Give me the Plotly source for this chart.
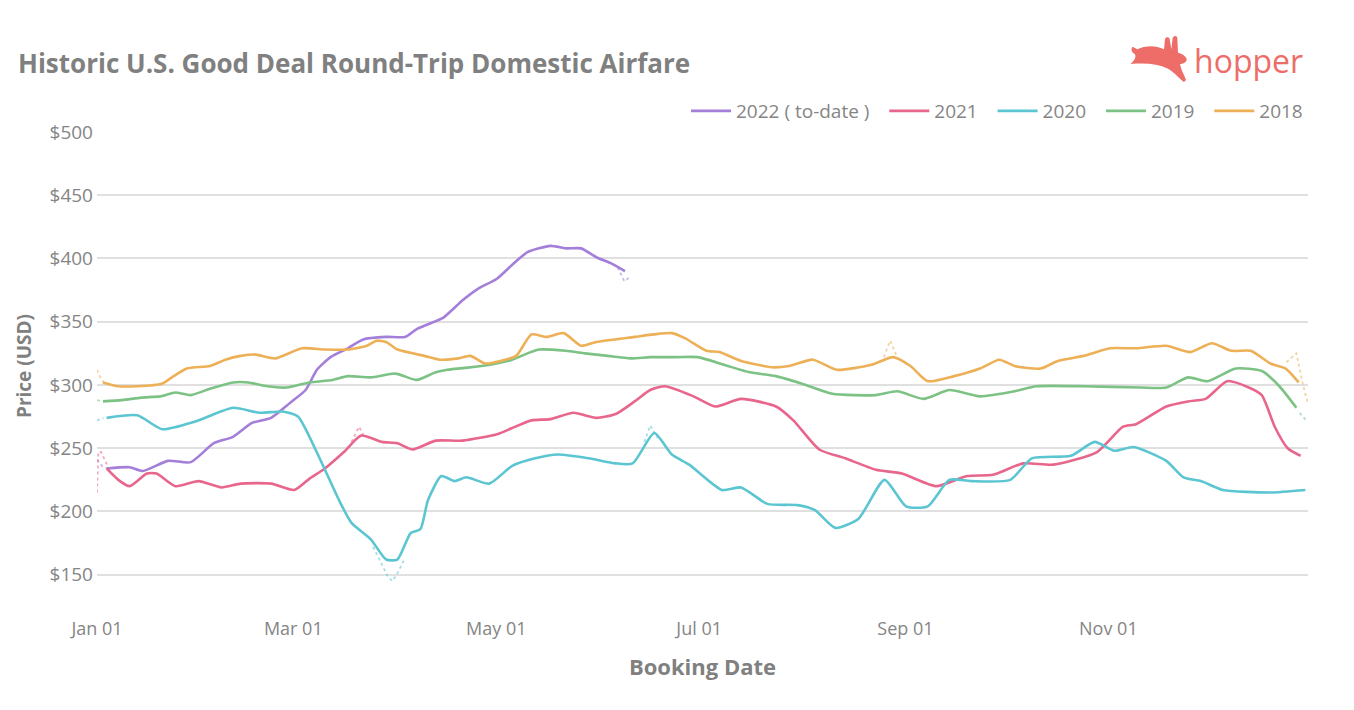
import pandas as pd
import plotly.graph_objects as go

# ---- data (day-of-year offsets from Jan 01, price in USD) ----
days_2022 = [2.9, 9.8, 13.8, 21.3, 28.2, 35.1, 40.9, 46.6, 52.3, 58.1, 62.7, 66.1, 70.2, 75.4, 80, 86.9,
             92.6, 96, 99.5, 104, 109.9, 114.5, 120.2, 124.8, 129.4, 136.3, 140.9, 145.5, 150.1, 154.7, 158.7]
vals_2022 = [234, 235, 232, 240, 239, 254, 259, 270, 274, 286, 296, 312, 322, 329, 336, 338,
             338, 344, 348, 353, 367, 376, 384, 395, 405, 410, 408, 408, 401, 396, 390]

days_2021 = [2.9, 6.4, 9.8, 15, 17.9, 23.6, 30.5, 37.4, 43.2, 52.4, 59.3, 63.9, 68.5, 74.2, 79.4, 85.7,
             90.3, 94.9, 101.8, 109.9, 120.2, 124.8, 130.6, 136.3, 143.2, 150.1, 155.9, 161.6, 166.3,
             170.8, 179.3, 185.8, 193.6, 204.1, 209.3, 217.1, 224.9, 234.1, 241.9, 252.3, 261.5,
             269.3, 278.4, 287.5, 300.6, 308.4, 312.3, 321.4, 327.9, 333.2, 339.7, 346.2, 350.1,
             354, 357.9, 361.8]
vals_2021 = [234, 225, 220, 230, 230, 220, 224, 219, 222, 222, 217, 226, 234, 247, 260, 255,
             254, 249, 256, 256, 261, 266, 272, 273, 278, 274, 277, 287, 296,
             299, 291, 283, 289, 283, 272, 249, 242, 233, 230, 220, 228,
             229, 238, 237, 247, 267, 269, 283, 287, 289, 303, 298, 292,
             267, 250, 244]

days_2020 = [2.9, 12.1, 19.6, 29.4, 40.9, 48.9, 55.8, 60.4, 66.2, 73.1, 76.5, 82.3, 86.9, 90.3, 94.3,
             97.2, 99.5, 103.5, 107.5, 111, 117.9, 124.8, 131.7, 138.6, 147.8, 155.9, 161, 167.5,
             172.8, 178, 187.8, 193.6, 201.5, 210.6, 215.8, 221.9, 228.8, 236.7, 243.2, 249.7,
             256.2, 262.7, 274.5, 281, 292.7, 299.9, 305.8, 311.6, 321.4, 326.6, 331.8, 338.4,
             352.7, 363.2]
vals_2020 = [274, 276, 265, 271, 282, 278, 279, 275, 246, 207, 191, 178, 162, 162, 183,
             186, 209, 228, 224, 227, 222, 236, 242, 245, 242, 238, 238, 262,
             245, 237, 217, 219, 206, 205, 201, 187, 194, 225, 204, 204,
             225, 224, 225, 242, 244, 255, 248, 251, 240, 227, 224, 217,
             215, 217]

days_2019 = [1.8, 7.5, 13.3, 19, 23.6, 28.2, 34, 40.9, 45.5, 51.2, 57, 63.9, 70.8, 75.4, 82.3, 89.7,
             96.1, 101.8, 105.3, 115.6, 124.8, 129.4, 132.9, 140.9, 146.7, 153.5, 160.4, 166.3,
             174.3, 180.6, 188.4, 196.2, 204.1, 211.9, 221, 234, 240.6, 248.4, 256.2, 265.4,
             275.8, 282.3, 296.6, 313.6, 321.4, 327.9, 333.8, 342.3, 350.1, 355.4, 360.5]
vals_2019 = [287, 288, 290, 291, 294, 292, 297, 302, 302, 299, 298, 302, 304, 307, 306, 309,
             304, 310, 312, 315, 320, 325, 328, 327, 325, 323, 321, 322,
             322, 322, 316, 310, 307, 301, 293, 292, 295, 289, 296, 291,
             295, 299, 299, 298, 298, 306, 303, 313, 311, 299, 282]

days_2018 = [1.8, 6.4, 12, 19.5, 22.5, 27, 34, 38.6, 43.2, 47.8, 53.5, 61.6, 68.5, 75.4, 81.1, 84,
             86.9, 90.3, 94.9, 98.4, 103, 108.7, 112.2, 116.7, 121.3, 126, 130.6, 135.1, 140.3,
             145.5, 150.1, 161.6, 167.4, 172.8, 176.7, 183.2, 187.1, 193.6, 202.8, 208, 215.2,
             222.3, 232.8, 239.3, 244.5, 249.7, 257.6, 265.4, 271.2, 275.8, 283.6, 288.8, 296.6,
             304.5, 312.3, 321.4, 328.6, 335.1, 341, 346.8, 352.7, 357.3, 361.2]
vals_2018 = [302, 299, 299, 301, 306, 313, 315, 320, 323, 324, 321, 329, 328, 328, 331, 335,
             334, 328, 325, 323, 320, 321, 323, 317, 319, 323, 340, 338, 341,
             331, 334, 338, 340, 341, 337, 327, 326, 319, 314, 315, 320,
             312, 316, 322, 315, 303, 307, 313, 320, 315, 313, 319, 323,
             329, 329, 331, 326, 333, 327, 327, 317, 313, 302]

# raw (unsmoothed) daily readings, only the stretches where they visibly leave the smoothed line
# (None separates stretches)
raw_days_2022 = [0, 1.5, 3, None, 156.5, 158.5, 160.5]
raw_vals_2022 = [241, 236, 234, None, 393, 382, 386]
raw_days_2021 = [0, 0.4, 1.2, 2.5, 4.5, None, 76.5, 78.8, 80.5]
raw_vals_2021 = [215, 247, 247, 240, 229, None, 255, 267, 258]
raw_days_2020 = [0, 2, None, 83, 85.5, 87.5, 88.8, 90.5, 92.5, None, 164.5, 166.3, 168.5]
raw_vals_2020 = [272, 274, None, 172, 158, 148, 145, 152, 163, None, 255, 268, 258]
raw_days_2019 = [0, 1.5, None, 361.5, 363.5]
raw_vals_2019 = [288, 287, None, 278, 272]
raw_days_2018 = [0, 1, 2.5, None, 236.5, 238.4, 240.5, None, 357.5, 360.5, 362.5, 364]
raw_vals_2018 = [312, 306, 300, None, 322, 335, 322, None, 318, 325, 300, 285]

series_names = ["2022 ( to-date )", "2021", "2020", "2019", "2018"]
series_days = [days_2022, days_2021, days_2020, days_2019, days_2018]
series_vals = [vals_2022, vals_2021, vals_2020, vals_2019, vals_2018]
raw_days = [raw_days_2022, raw_days_2021, raw_days_2020, raw_days_2019, raw_days_2018]
raw_vals = [raw_vals_2022, raw_vals_2021, raw_vals_2020, raw_vals_2019, raw_vals_2018]
series_colors = ["#A47FD9", "#E8658B", "#5BC5D1", "#7DC285", "#EDB057"]

y_tick_vals = [150, 200, 250, 300, 350, 400, 450, 500]
y_tick_text = ["$150", "$200", "$250", "$300", "$350", "$400", "$450", "$500"]
x_tick_labels = ["Jan 01", "Mar 01", "May 01", "Jul 01", "Sep 01", "Nov 01"]
x_tick_dates = ["2021-01-01", "2021-03-01", "2021-05-01", "2021-07-01", "2021-09-01", "2021-11-01"]

base = pd.Timestamp("2021-01-01")


def to_dates(days):
    return [None if k is None else base + pd.Timedelta(days=float(k)) for k in days]


fig = go.Figure()
# faint dotted raw readings underneath
for d, v, c in zip(raw_days, raw_vals, series_colors):
    fig.add_trace(go.Scatter(x=to_dates(d), y=v, mode="lines", showlegend=False, hoverinfo="skip",
                             opacity=0.55, connectgaps=False,
                             line=dict(color=c, width=1.8, dash="dot")))
# smoothed lines
n = len(series_names)
for i, (name, d, v, c) in enumerate(zip(series_names, series_days, series_vals, series_colors)):
    label = name + ("\u00a0\u00a0" if i < n - 1 else "")
    fig.add_trace(go.Scatter(x=to_dates(d), y=v, name=label, mode="lines",
                             line=dict(color=c, width=2.6, shape="spline", smoothing=0.6)))

FONT = "Open Sans"
GRAY = "#808080"
TICK_GRAY = "#858585"
CORAL = "#EE6D69"

OFF = 8  # page body margin
# plot area in page pixels
L, R, T, B = 97, 1308, 132, 600
W, H = 1354 - OFF, 710 - OFF


def px(xp, yp):
    """page pixel -> paper coords"""
    return (xp - L) / (R - L), (B - yp) / (B - T)


def path_from(cmds):
    out = []
    for cmd, pts in cmds:
        out.append(cmd + " " + " ".join("%.5f,%.5f" % px(a, b) for a, b in pts))
    return " ".join(out) + " Z"


def rz(X, Y):
    # rabbit outline traced in a 3x zoom of the page region starting at (1118, 26)
    return (1118 + X / 3.0, 26 + Y / 3.0)


rabbit_pts = [
    ("M", [rz(44, 62)]),
    ("L", [rz(58, 70)]),
    ("C", [rz(80, 60), rz(110, 56), rz(138, 70)]),
    ("L", [rz(141, 40)]),
    ("C", [rz(143, 32), rz(154, 32), rz(155, 40)]),
    ("L", [rz(160, 70)]),
    ("L", [rz(164, 36)]),
    ("C", [rz(166, 28), rz(178, 28), rz(178, 36)]),
    ("L", [rz(180, 80)]),
    ("C", [rz(195, 84), rz(207, 92), rz(206, 102)]),
    ("C", [rz(204, 110), rz(195, 113), rz(186, 115)]),
    ("C", [rz(190, 135), rz(200, 150), rz(204, 162)]),
    ("L", [rz(198, 168)]),
    ("C", [rz(185, 158), rz(170, 140), rz(150, 128)]),
    ("C", [rz(120, 114), rz(85, 110), rz(38, 114)]),
    ("C", [rz(50, 102), rz(56, 92), rz(50, 84)]),
    ("C", [rz(40, 78), rz(38, 68), rz(44, 62)]),
]
rabbit = path_from(rabbit_pts)

fig.update_layout(
    width=W, height=H,
    margin=dict(l=L - OFF, r=W - (R - OFF), t=T - OFF, b=H - (B - OFF), autoexpand=False),
    paper_bgcolor="white", plot_bgcolor="white",
    font=dict(family=FONT, color=GRAY, size=16),
    showlegend=True,
    legend=dict(orientation="h", x=1.0, xanchor="right", y=px(0, 111)[1], yanchor="middle",
                font=dict(size=19, color=TICK_GRAY, family=FONT), bgcolor="rgba(0,0,0,0)",
                itemwidth=40, tracegroupgap=0),
    xaxis=dict(type="date", range=["2021-01-01", "2021-12-31"], tickvals=x_tick_dates, ticktext=x_tick_labels,
               showgrid=False, zeroline=False, showline=False, ticks="",
               tickfont=dict(size=18, color=TICK_GRAY, family=FONT), ticklabelstandoff=16,
               title=dict(text="<b>Booking Date</b>", font=dict(size=22, color=GRAY, family=FONT), standoff=20)),
    yaxis=dict(range=[130, 500], tickvals=y_tick_vals, ticktext=y_tick_text,
               showgrid=True, gridcolor="#e0e0e0", gridwidth=2, zeroline=False, showline=False, ticks="",
               tickfont=dict(size=19, color=TICK_GRAY, family=FONT), ticklabelstandoff=3,
               title=dict(text="<b>Price (USD)</b>", font=dict(size=19, color=GRAY, family=FONT), standoff=12)),
    annotations=[
        dict(text="<b>Historic U.S. Good Deal Round-Trip Domestic Airfare</b>", xref="paper", yref="paper",
             x=px(16, 0)[0], y=px(0, 63)[1], xanchor="left", yanchor="middle", showarrow=False,
             font=dict(size=26, color=GRAY, family=FONT)),
        dict(text="hopper", xref="paper", yref="paper", x=px(1192, 0)[0], y=px(0, 60)[1],
             xanchor="left", yanchor="middle", showarrow=False,
             font=dict(size=32, color=CORAL, family=FONT)),
    ],
    shapes=[dict(type="path", xref="paper", yref="paper", path=rabbit,
                 fillcolor=CORAL, line=dict(width=0), layer="above")],
)

fig.write_html("out.html")
